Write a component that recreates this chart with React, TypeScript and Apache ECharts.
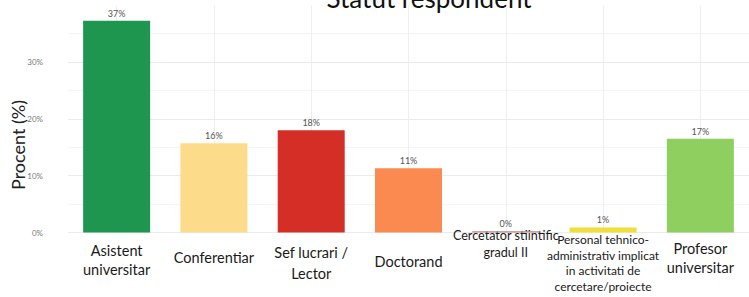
import React, { useEffect, useRef } from "react";
import * as echarts from "echarts";

const categories = [
  "Asistent\nuniversitar",
  "Conferentiar",
  "Sef lucrari /\nLector",
  "Doctorand",
  "Cercetator stiintific\ngradul II",
  "Personal tehnico-\nadministrativ implicat\nin activitati de\ncercetare/proiecte",
  "Profesor\nuniversitar",
];
const values = [37.3, 15.7, 18.0, 11.3, 0.2, 0.9, 16.5];
const colors = ["#1f9650", "#fcdc8a", "#d52e26", "#fa8a50", "#b8868a", "#f0df3a", "#8ecf5f"];
const yTicks = [0, 10, 20, 30];

// per-label layout tweaks (padding top, font size, line height)
const labelLayout = [
  { pad: 14, size: 14.5, lh: 19 },
  { pad: 21, size: 14.5, lh: 19 },
  { pad: 15, size: 14.5, lh: 21 },
  { pad: 25, size: 14.5, lh: 19 },
  { pad: 1, size: 12.6, lh: 16.5 },
  { pad: 5, size: 12, lh: 15.7 },
  { pad: 12, size: 14.5, lh: 19 },
];

export default function App() {
  const ref = useRef<HTMLDivElement>(null);
  useEffect(() => {
    if (!ref.current) return;
    const chart = echarts.init(ref.current, null, { renderer: "svg" });
    const font = "Lato, 'Liberation Sans', sans-serif";
    chart.setOption({
      animation: false,
      backgroundColor: "#ffffff",
      textStyle: { fontFamily: font },
      grid: { left: 68, right: 0, top: 5.3, bottom: 64.5, containLabel: false },
      graphic: [
        {
          type: "text",
          x: 429,
          y: 11,
          style: {
            text: "Statut respondent",
            fontSize: 26,
            fontFamily: font,
            fill: "#111",
            align: "center",
            verticalAlign: "bottom",
          },
        },
        {
          type: "text",
          x: 18,
          y: 145,
          rotation: Math.PI / 2,
          style: {
            text: "Procent (%)",
            fontSize: 18,
            fontFamily: font,
            fill: "#222",
            align: "center",
            verticalAlign: "middle",
          },
        },
      ],
      xAxis: {
        type: "category",
        data: categories.map((c, i) => ({
          value: c,
          textStyle: {
            padding: [labelLayout[i].pad, 0, 0, 0],
            fontSize: labelLayout[i].size,
            lineHeight: labelLayout[i].lh,
          },
        })),
        axisLine: { show: false },
        axisTick: {
          show: true,
          alignWithLabel: true,
          inside: true,
          length: 227,
          lineStyle: { color: "#efefef", width: 1 },
        },
        axisLabel: {
          interval: 0,
          margin: -6,
          color: "#1a1a1a",
          fontFamily: font,
          fontSize: 14.5,
          align: "center",
        },
        splitLine: { show: false },
      },
      yAxis: {
        type: "value",
        min: 0,
        max: 40,
        interval: 10,
        axisLine: { show: false },
        axisTick: { show: false },
        axisLabel: {
          margin: 25,
          fontSize: 8,
          color: "#7a7a7a",
          formatter: (v: number) => (yTicks.includes(v) ? `${v}%` : ""),
        },
        splitLine: {
          show: true,
          lineStyle: { color: ["#ebebeb", "#ebebeb", "#ebebeb", "#ebebeb", "transparent"], width: 1 },
        },
        minorTick: { show: false, splitNumber: 2 },
        minorSplitLine: { show: true, lineStyle: { color: "#f5f5f5", width: 1 } },
      },
      series: [
        {
          type: "bar",
          data: values.map((v, i) => ({ value: v, itemStyle: { color: colors[i] } })),
          barWidth: 67,
          label: {
            show: true,
            position: "top",
            distance: 3,
            fontSize: 9,
            color: "#555",
            fontFamily: font,
            formatter: (p: any) => `${Math.round(p.value)}%`,
          },
        },
      ],
    });
    return () => chart.dispose();
  }, []);
  return (
    <div
      ref={ref}
      style={{ position: "absolute", left: 0, top: 0, width: 749, height: 297 }}
    />
  );
}
